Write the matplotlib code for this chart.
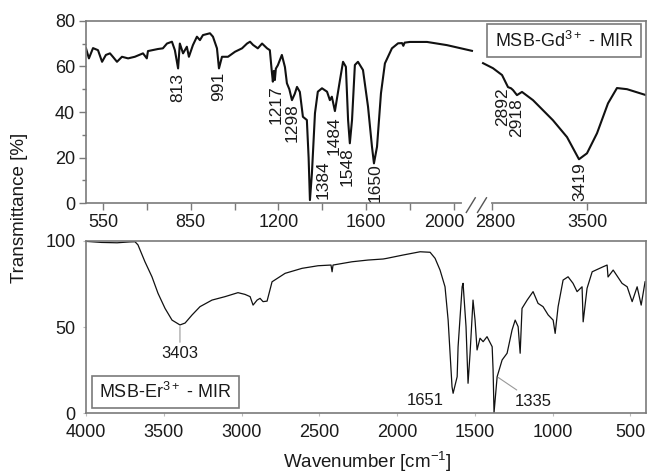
import numpy as np
import matplotlib
matplotlib.use("Agg")
import matplotlib.pyplot as plt
import matplotlib.transforms as mtransforms
from matplotlib.patches import Rectangle

plt.rcParams['font.family'] = ['Liberation Sans', 'DejaVu Sans']
plt.rcParams['mathtext.fontset'] = 'custom'
plt.rcParams['mathtext.rm'] = 'Liberation Sans'
plt.rcParams['mathtext.it'] = 'Liberation Sans:italic'
plt.rcParams['mathtext.default'] = 'regular'

# ---------------- data: MSB-Gd3+ (top panel) ----------------
gd_low_wn = [492, 502, 516, 533, 547, 560, 574, 584, 598, 615, 636, 659, 687, 700, 704,
             738, 755, 769, 786, 796, 807, 813, 824, 837, 844, 859, 875, 887, 899, 927,
             939, 955, 963, 975, 999, 1027, 1055, 1075, 1087, 1099, 1118, 1135, 1155, 1166,
             1174, 1178, 1182, 1186, 1190, 1198, 1216, 1230, 1239, 1250, 1262, 1275, 1285,
             1298, 1312, 1330, 1338, 1344, 1353, 1367, 1380, 1399, 1422, 1435, 1444, 1458,
             1481, 1495, 1508, 1518, 1526, 1536, 1549, 1563, 1586, 1609, 1627, 1636, 1650,
             1668, 1686, 1718, 1746, 1764, 1770, 1776, 1800, 1878, 1969, 2083]
gd_low_t = [67.9, 63.5, 68.0, 67.1, 62.0, 65.0, 65.7, 64.2, 62.0, 64.2, 63.5, 64.2, 65.7, 63.5, 66.7,
            67.6, 67.9, 70.0, 70.8, 67.1, 59.1, 70.0, 65.7, 68.6, 64.2, 69.3, 73.0, 71.5, 73.7, 74.5,
            73.0, 67.9, 59.1, 64.2, 64.2, 66.4, 67.9, 70.0, 70.8, 69.4, 67.9, 70.0, 67.9, 67.1,
            57.6, 53.3, 58.0, 54.0, 59.0, 60.5, 65.0, 59.7, 52.6, 50.0, 45.2, 48.0, 51.0,
            48.8, 37.9, 36.5, 20.0, 1.4, 13.0, 39.5, 48.9, 50.4, 48.9, 45.2, 46.7, 40.4,
            54.0, 62.0, 59.8, 36.5, 26.3, 36.5, 60.6, 62.0, 58.4, 42.3, 24.8, 17.5, 24.8,
            48.2, 61.3, 67.9, 70.1, 70.2, 69.0, 70.4, 70.7, 70.7, 69.3, 66.8]

gd_high_wn = [2734, 2807, 2874, 2918, 2940, 2955, 2984, 3021, 3102, 3249, 3353, 3441, 3500,
              3574, 3655, 3721, 3795, 3935]
gd_high_t = [61.4, 59.2, 56.2, 50.9, 50.4, 49.6, 47.4, 48.8, 45.2, 36.4, 29.0, 19.3, 21.9,
             30.7, 43.8, 50.5, 50.0, 47.4]

gd_labels = ['813', '991', '1217', '1298', '1384', '1484', '1548', '1650', '2892', '2918', '3419']
gd_label_x = [807, 963, 1190, 1262, 1404, 1454, 1513, 1640, 2881, 2984, 3448]
gd_label_y = [57.0, 57.5, 51.8, 43.9, 19.0, 37.9, 24.6, 17.6, 50.6, 46.2, 18.1]

# broken axis: wavenumber -> axis position (piecewise linear)
scale_wn = [300, 550, 850, 1200, 1600, 2000, 2100, 2690, 2800, 3500, 4200]
scale_u = [-0.8333, 0, 1, 2, 3, 4, 4.25, 4.266, 4.436, 5.519, 6.602]
gd_xticks = [550, 850, 1200, 1600, 2000, 2800, 3500]
gd_xminor = [700, 1025, 1400, 1800]

# ---------------- data: MSB-Er3+ (bottom panel) ----------------
er_wn = [3996, 3900, 3800, 3720, 3685, 3666, 3621, 3576, 3537, 3492, 3447, 3396, 3363, 3318,
         3267, 3190, 3106, 3023, 2978, 2945, 2926, 2900, 2881, 2862, 2836, 2804, 2720, 2611,
         2508, 2425, 2418, 2412, 2290, 2187, 2090, 2065, 1962, 1852, 1788, 1756, 1724, 1692,
         1672, 1647, 1640, 1614, 1608, 1582, 1576, 1557, 1544, 1531, 1512, 1499, 1486, 1467,
         1447, 1422, 1389, 1383, 1377, 1357, 1325, 1293, 1261, 1241, 1222, 1209, 1197, 1164,
         1126, 1094, 1062, 1029, 997, 984, 965, 933, 901, 869, 843, 811, 804, 779, 746, 676,
         650, 644, 611, 554, 521, 489, 457, 431, 406]
er_t = [99.6, 99.0, 98.8, 99.3, 99.4, 97.6, 87.8, 79.1, 69.5, 60.8, 54.0, 51.2, 52.3, 57.0,
        61.8, 65.6, 67.6, 69.9, 68.9, 67.6, 62.7, 65.6, 66.6, 64.7, 65.0, 76.2, 81.1, 84.0,
        85.5, 85.9, 82.0, 85.9, 87.8, 88.8, 89.4, 89.8, 91.7, 93.6, 93.3, 89.8, 83.0, 73.3,
        54.0, 15.4, 11.6, 21.2, 38.6, 73.3, 75.3, 50.2, 17.4, 34.8, 65.6, 54.0, 36.7, 43.5,
        41.5, 44.4, 38.6, 25.1, 0.3, 21.2, 30.9, 34.8, 48.3, 54.0, 50.2, 34.8, 60.8, 65.6,
        70.5, 63.7, 61.8, 57.0, 54.0, 46.3, 61.8, 77.2, 79.1, 75.3, 70.5, 73.3, 53.0, 72.4, 82.0, 84.9,
        85.9, 79.0, 83.0, 75.3, 73.3, 64.7, 73.3, 62.7, 76.2]

er_labels = ['3403', '1651', '1335']
er_label_xy = [(3396, 51.0), (1640, 11.6), (1357, 21.2)]
er_text_xy = [(3396, 34.4), (1817, 7.7), (1126, 7.1)]
er_leader = [True, False, True]

# ---------------- figure ----------------
fig = plt.figure(figsize=(6.52, 4.73), dpi=100)
ax1 = fig.add_axes([0.1319, 0.5702, 0.8589, 0.3860])
ax2 = fig.add_axes([0.1319, 0.1262, 0.8589, 0.3649])

spine_c = '#7a7a7a'
txt_c = '#1a1a1a'

def fwd(x):
    return np.interp(x, scale_wn, scale_u)

def inv(u):
    return np.interp(u, scale_u, scale_wn)

ax1.set_xscale('function', functions=(fwd, inv))
ax1.plot(gd_low_wn, gd_low_t, color='#111111', lw=1.5, solid_joinstyle='round')
ax1.plot(gd_high_wn, gd_high_t, color='#111111', lw=1.5, solid_joinstyle='round')
ax1.set_xlim(492, 3935)
ax1.set_ylim(0, 80)
ax1.set_xticks(gd_xticks)
ax1.set_xticklabels([str(v) for v in gd_xticks])
ax1.set_xticks(gd_xminor, minor=True)
ax1.set_yticks([0, 20, 40, 60, 80])
ax1.set_yticks([10, 30, 50, 70], minor=True)
ax1.tick_params(axis='both', which='major', direction='out', length=5, width=1,
                color=spine_c, labelsize=13, labelcolor=txt_c, pad=3)
ax1.tick_params(axis='x', which='minor', direction='out', length=5, width=1, color=spine_c)
ax1.tick_params(axis='y', which='minor', direction='out', length=3, width=1, color=spine_c)
for s in ax1.spines.values():
    s.set_color(spine_c)
    s.set_linewidth(1.2)

# nudge the "2000" / "2800" labels apart as in the original
for lbl in ax1.get_xticklabels():
    if lbl.get_text() == '2000':
        lbl.set_transform(lbl.get_transform() +
                          mtransforms.ScaledTranslation(-7 / 72, 0, fig.dpi_scale_trans))
    if lbl.get_text() == '2800':
        lbl.set_transform(lbl.get_transform() +
                          mtransforms.ScaledTranslation(2 / 72, 0, fig.dpi_scale_trans))

for lab, x, y in zip(gd_labels, gd_label_x, gd_label_y):
    ax1.text(x, y, lab, rotation=90, ha='center', va='top', fontsize=12.5, color=txt_c)

# legend-like box (top)
ax1.add_patch(Rectangle((0.716, 0.801), 0.275, 0.181, transform=ax1.transAxes,
                        fill=True, fc='white', ec=spine_c, lw=1.2, zorder=3))
ax1.text(0.854, 0.889, r'MSB-Gd$^{3+}$ - MIR', transform=ax1.transAxes, ha='center',
         va='center', fontsize=13, color=txt_c, zorder=4)

# break marks on the bottom axis
fig.canvas.draw()
def to_axes_x(wn):
    disp = ax1.transData.transform((wn, 0))
    return ax1.transAxes.inverted().transform(disp)[0]
xb = 0.5 * (to_axes_x(2100) + to_axes_x(2690))
ax1.plot([xb - 0.022, xb + 0.022], [0, 0], transform=ax1.transAxes, color='white',
         lw=3, clip_on=False, zorder=5)
for dx in (-0.010, 0.010):
    ax1.plot([xb + dx - 0.008, xb + dx + 0.008], [-0.05, 0.03], transform=ax1.transAxes,
             color='#555555', lw=1, clip_on=False, zorder=6)

# bottom panel
ax2.plot(er_wn, er_t, color='#111111', lw=0.9)
ax2.set_xlim(4000, 400)
ax2.set_ylim(0, 100)
ax2.set_xticks([4000, 3500, 3000, 2500, 2000, 1500, 1000, 500])
ax2.set_yticks([0, 50, 100])
ax2.tick_params(axis='both', which='major', direction='out', length=2.5, width=0.8,
                color='#bbbbbb', labelsize=13, labelcolor=txt_c, pad=5)
for s in ax2.spines.values():
    s.set_color(spine_c)
    s.set_linewidth(1.2)

for lab, xy, xt, lead in zip(er_labels, er_label_xy, er_text_xy, er_leader):
    if lead:
        ax2.annotate(lab, xy=xy, xytext=xt, ha='center', va='center', fontsize=12,
                     color=txt_c,
                     arrowprops=dict(arrowstyle='-', color='#999999', lw=0.8,
                                     shrinkA=1, shrinkB=1))
    else:
        ax2.text(xt[0], xt[1], lab, ha='center', va='center', fontsize=12, color=txt_c)

ax2.add_patch(Rectangle((0.0107, 0.031), 0.262, 0.185, transform=ax2.transAxes,
                        fill=True, fc='white', ec=spine_c, lw=1.2, zorder=3))
ax2.text(0.142, 0.123, r'MSB-Er$^{3+}$ - MIR', transform=ax2.transAxes, ha='center',
         va='center', fontsize=13, color=txt_c, zorder=4)

fig.text(20 / 652, 1 - 208 / 473, 'Transmittance [%]', rotation=90, ha='center',
         va='center', fontsize=13.5, color=txt_c)
fig.text(367 / 652, 1 - 462 / 473, r'Wavenumber [cm$^{-1}$]', ha='center', va='center',
         fontsize=13.5, color=txt_c)

fig.savefig('out.png', dpi=100)
